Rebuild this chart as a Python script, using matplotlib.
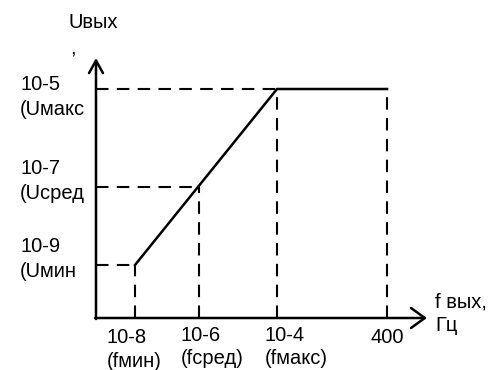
import matplotlib.pyplot as plt

plt.rcParams['font.family'] = ['Liberation Sans', 'DejaVu Sans']

# схематичные координаты точек (условные единицы по осям)
f_pos = [39, 103, 181, 291]
u_pos = [53, 131, 229, 229]
f_labels = [('10-8', '(fмин)'), ('10-6', '(fсред)'), ('10-4', '(fмакс)'), ('400', '')]
u_labels = [('10-9', '(Uмин'), ('10-7', '(Uсред'), ('10-5', '(Uмакс')]

# расположение подписей (подобрано по рисунку)
f_lab_x = [11, 85, 169, 291]
f_lab_y = [(-25, -49), (-23, -46), (-23, -46), (-25, None)]
u_lab_y = [(66, 41), (144, 119), (228, 203)]

fig = plt.figure(figsize=(4.92, 3.70), dpi=100)
oy = 318
ax = fig.add_axes([96 / 492, (370 - oy) / 370, 1 - 96 / 492, oy / 370])
ax.set_xlim(0, 492 - 96)
ax.set_ylim(0, oy)
ax.axis('off')

dash = (0, (6, 4))
# пунктирные проекции на оси
for i in range(3):
    ax.plot([0, f_pos[i]], [u_pos[i], u_pos[i]], color='black', lw=1.5, ls=dash)
for i in range(4):
    ax.plot([f_pos[i], f_pos[i]], [0, u_pos[i]], color='black', lw=1.5, ls=dash)

# основная характеристика
ax.plot([f_pos[0], f_pos[2], f_pos[3]], [u_pos[0], u_pos[2], u_pos[3]],
        color='black', lw=1.8, solid_joinstyle='miter')

# оси со стрелками
ax.annotate('', xy=(331, 0), xytext=(-1, 0), annotation_clip=False,
            arrowprops=dict(arrowstyle='->,head_length=1.0,head_width=0.72',
                            lw=1.8, color='black', shrinkA=0, shrinkB=0,
                            mutation_scale=10))
ax.annotate('', xy=(0, 260), xytext=(0, -1), annotation_clip=False,
            arrowprops=dict(arrowstyle='->,head_length=0.9,head_width=0.5',
                            lw=1.8, color='black', shrinkA=0, shrinkB=0,
                            mutation_scale=10))

fs = 14.5
for i, (top, bot) in enumerate(f_labels):
    ha = 'center' if not bot else 'left'
    ax.text(f_lab_x[i], f_lab_y[i][0], top, ha=ha, va='baseline', fontsize=fs, clip_on=False)
    if bot:
        ax.text(f_lab_x[i], f_lab_y[i][1], bot, ha=ha, va='baseline', fontsize=fs, clip_on=False)
for i, (top, bot) in enumerate(u_labels):
    ax.text(-76, u_lab_y[i][0], top, ha='left', va='baseline', fontsize=fs, clip_on=False)
    ax.text(-76, u_lab_y[i][1], bot, ha='left', va='baseline', fontsize=fs, clip_on=False)

ax.text(-28, 290, 'Uвых', ha='left', va='baseline', fontsize=fs, clip_on=False)
ax.text(-26, 265, ',', ha='left', va='baseline', fontsize=fs, clip_on=False)
ax.text(339, 11, 'f вых,', ha='left', va='baseline', fontsize=fs, clip_on=False)
ax.text(339, -13, 'Гц', ha='left', va='baseline', fontsize=fs, clip_on=False)

fig.savefig('out.png', dpi=100)
